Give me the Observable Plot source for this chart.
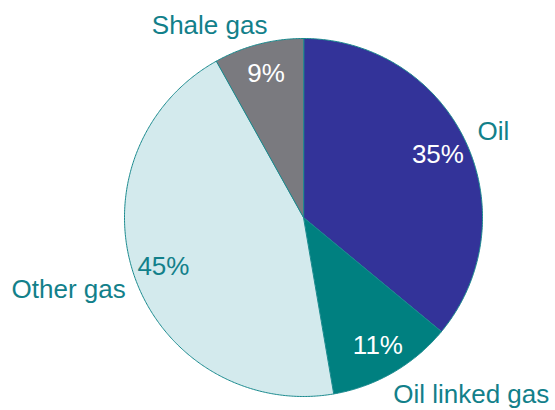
<!DOCTYPE html>
<html>
<head>
<meta charset="utf-8">
<script src="https://cdn.jsdelivr.net/npm/d3@7"></script>
<script src="https://cdn.jsdelivr.net/npm/@observablehq/plot@0.6"></script>
<style>
  html, body { margin: 0; padding: 0; background: #fff; }
</style>
</head>
<body>
<div id="chart"></div>
<script>
const categories = ["Oil", "Oil linked gas", "Other gas", "Shale gas"];
const shares = [36.0, 11.3, 44.6, 8.1];           // slice sizes as drawn
const pctLabels = ["35%", "11%", "45%", "9%"];     // printed percentages
const colors = ["#333399", "#008080", "#d3eaed", "#7a7a7f"];

const arcs = d3.pie().sort(null).value(d => d)(shares);

// slice outlines in unit-circle coordinates (y up)
const poly = [];
arcs.forEach((a, i) => {
  const name = categories[i];
  poly.push({name, x: 0, y: 0});
  const n = Math.max(2, Math.ceil((a.endAngle - a.startAngle) / (Math.PI / 360)));
  for (let k = 0; k <= n; k++) {
    const t = a.startAngle + (a.endAngle - a.startAngle) * k / n;
    poly.push({name, x: Math.sin(t), y: Math.cos(t)});
  }
});

const mids = arcs.map((a, i) => {
  const m = (a.startAngle + a.endAngle) / 2;
  return {name: categories[i], pct: pctLabels[i], sx: Math.sin(m), sy: Math.cos(m)};
});

const teal = "#12808a";
const pctFill = {"Oil": "#ffffff", "Oil linked gas": "#ffffff", "Other gas": teal, "Shale gas": "#ffffff"};
const outer = {
  "Oil":            {textAnchor: "start", dx: 12, dy: -10},
  "Oil linked gas": {textAnchor: "start", dx: 0,  dy: 22},
  "Other gas":      {textAnchor: "end",   dx: -9, dy: 13},
  "Shale gas":      {textAnchor: "end",   dx: 9,  dy: -19}
};

const marks = [
  Plot.line(poly, {
    x: "x", y: "y", z: "name", fill: "name",
    stroke: "#1a8a8e", strokeWidth: 1, curve: "linear-closed"
  }),
  Plot.text(mids, {
    x: d => d.sx * 0.83, y: d => d.sy * 0.83, text: "pct",
    fill: d => pctFill[d.name], fontSize: 26
  })
];
for (const name of categories) {
  const o = outer[name];
  marks.push(Plot.text(mids.filter(d => d.name === name), {
    x: "sx", y: "sy", text: "name", fill: teal, fontSize: 26,
    textAnchor: o.textAnchor, dx: o.dx, dy: o.dy
  }));
}

const chart = Plot.plot({
  width: 555,
  height: 410,
  margin: 0,
  style: {fontFamily: "'Liberation Sans', Arial, sans-serif", background: "#fff"},
  x: {domain: [-1, 1], range: [124, 482], axis: null},
  y: {domain: [-1, 1], range: [396, 38], axis: null},
  color: {domain: categories, range: colors},
  marks
});
document.getElementById("chart").appendChild(chart);
</script>
</body>
</html>
